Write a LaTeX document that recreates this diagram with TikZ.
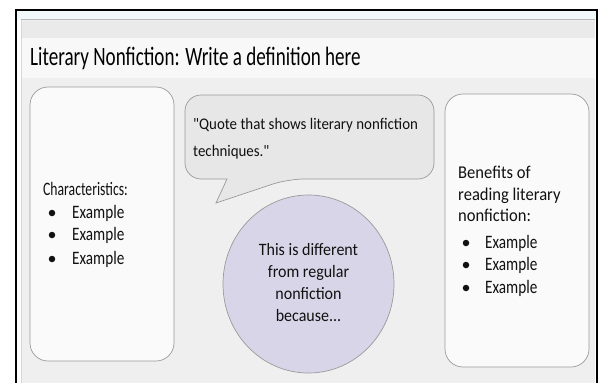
\documentclass[tikz,border=0pt]{standalone}
\usepackage{fontspec}
\newfontfamily\handA[FakeStretch=0.72]{Carlito}
\newfontfamily\handB[FakeStretch=0.80]{Carlito}
\newfontfamily\handC[FakeStretch=0.92]{Carlito}
\definecolor{panel}{HTML}{EFEFEF}
\definecolor{band}{HTML}{EAEAEA}
\definecolor{titleband}{HTML}{F8F8F8}
\definecolor{topstrip}{HTML}{F2F9FA}
\definecolor{boxfill}{HTML}{FAFAFA}
\definecolor{boxline}{HTML}{9A9A9A}
\definecolor{bubblefill}{HTML}{E7E7E7}
\definecolor{lavender}{HTML}{D9D5E8}
\definecolor{ink}{HTML}{111111}
\tikzset{
  panelbox/.style={draw=boxline, line width=0.7pt, fill=boxfill, rounded corners=18pt},
  txt/.style={inner sep=0pt, font=\handB\fontsize{19}{22}\selectfont, text=ink, align=left},
  bul/.style={circle, fill=ink, inner sep=0pt, minimum size=6.5pt}
}
\begin{document}
\begin{tikzpicture}[x=1pt,y=-1pt]
\useasboundingbox (0,0) rectangle (598,383);
\fill[white] (0,0) rectangle (598,383);
% frame
\fill[topstrip] (16,10) rectangle (596,20);
\fill[panel] (21,20) rectangle (595,383);
\fill[band] (21,21) rectangle (595,38);
\fill[titleband] (21,38) rectangle (595,78);
\draw[boxline!70, line width=0.8pt] (21,19.5) -- (595,19.5);
\draw[boxline!40, line width=0.8pt] (21.5,20) -- (21.5,383);
\draw[black, line width=2pt] (16,383) -- (16,10) -- (596.5,10) -- (596.5,383);
% title
\node[txt, anchor=base west, font=\handA\fontsize{26.5}{30}\selectfont, text=black] (title) at (30,65) {Literary Nonfiction: Write a definition here};
% left box
\draw[panelbox] (30,87) rectangle (174,361);
\node[txt, anchor=west, font=\handA\fontsize{19}{22}\selectfont] (char) at (43,189) {Characteristics:};
\foreach \yy/\nm in {213/a,235/b,259/c}{
  \node[bul] (lb\nm) at (52,\yy) {};
  \node[txt, anchor=west] (lt\nm) at (72,\yy) {Example};
}
% speech bubble
\draw[draw=boxline, line width=0.7pt, fill=bubblefill, rounded corners=16pt]
  (185,95) -- (434,95) -- (434,179) -- (288,179) [sharp corners] -- (216,203) -- (227,179) [rounded corners=16pt] -- (185,179) -- cycle;
\node[txt, anchor=west, font=\handC\fontsize{16.2}{28}\selectfont] (quote) at (193,125) {"Quote that shows literary nonfiction};
\node[txt, anchor=west, font=\handC\fontsize{16.2}{28}\selectfont] (quote2) at (193,152) {techniques."};
% circle
\draw[draw=boxline, line width=0.7pt, fill=lavender] (308.5,284) ellipse [x radius=85.5, y radius=89];
\node[txt, align=center, font=\handC\fontsize{17.4}{22}\selectfont] (diff) at (308.5,283) {This is different\\from regular\\nonfiction\\because...};
% right box
\draw[panelbox] (445,94) rectangle (589,367);
\node[txt, anchor=north west, font=\handC\fontsize{18}{21.5}\selectfont] (ben) at (458,166) {Benefits of\\reading literary\\nonfiction:};
\foreach \yy/\nm in {243/a,265/b,288/c}{
  \node[bul] (rb\nm) at (466,\yy) {};
  \node[txt, anchor=west] (rt\nm) at (485,\yy) {Example};
}
\end{tikzpicture}
\end{document}
